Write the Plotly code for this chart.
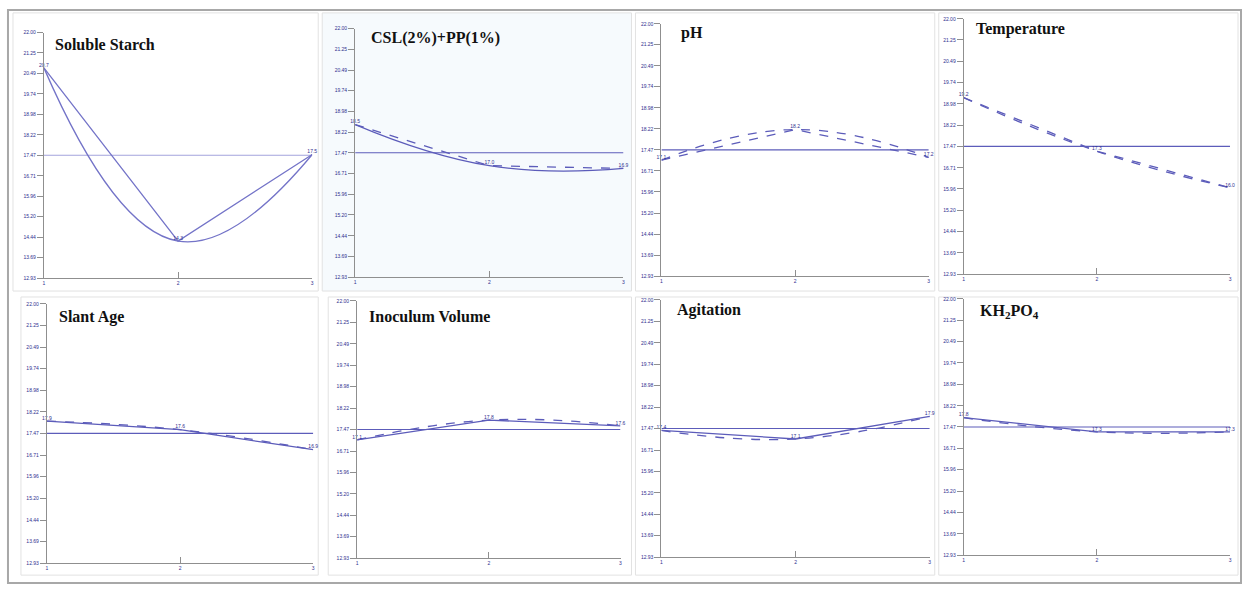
import plotly.graph_objects as go

# ---------------- data ----------------
factors = ["Soluble Starch", "CSL(2%)+PP(1%)", "pH", "Temperature",
           "Slant Age", "Inoculum Volume", "Agitation", "KH<sub>2</sub>PO<sub>4</sub>"]
levels = [1, 2, 3]
level_labels = ["1", "2", "3"]
soluble_starch = [20.7, 14.3, 17.5]
csl_pp = [18.5, 17.0, 16.9]
ph = [17.1, 18.2, 17.2]
temperature = [19.2, 17.3, 16.0]
slant_age = [17.9, 17.6, 16.9]
inoculum_volume = [17.1, 17.8, 17.6]
agitation = [17.4, 17.1, 17.9]
kh2po4 = [17.8, 17.3, 17.3]
series = [soluble_starch, csl_pp, ph, temperature, slant_age, inoculum_volume, agitation, kh2po4]
grand_mean = 17.47
y_ticks = [12.93, 13.69, 14.44, 15.20, 15.96, 16.71, 17.47, 18.22, 18.98, 19.74, 20.49, 21.25, 22.00]

# ---------------- layout geometry (pixels) ----------------
W, H = 1245, 589
# (x at level 1, x at level 3, y top of axis, y bottom of axis)
geom = [(43, 312, 30, 278), (355, 624, 26, 277), (662, 930, 21, 276), (965, 1232, 16, 274),
        (46, 313, 304, 566), (357, 621, 301, 561), (662, 931, 300, 560), (965, 1232, 299, 558)]
title_pos = [(52, 42), (369, 35), (680, 30), (975, 26), (56, 317), (367, 317), (676, 310), (979, 312)]
boxes = [(12, 10, 318, 291), (322, 10, 632, 291), (636, 10, 936, 291), (940, 10, 1240, 291),
         (20, 297, 318, 578), (328, 297, 632, 578), (636, 297, 936, 578), (940, 297, 1240, 578)]
line_dash = ["solid", "dash", "dash", "dash", "solid", "solid", "solid", "solid"]
curve_dash = ["solid", "solid", "dash", "dash", "dash", "dash", "dash", "dash"]

LINE = "#5c5cba"
NAVY = "#30308f"
AXIS = "#8f8f8f"

fig = go.Figure()
shapes = []
annotations = []

for i, (name, vals) in enumerate(zip(factors, series)):
    k = "" if i == 0 else str(i + 1)
    xa, ya = "x" + k, "y" + k
    x0, x3, yt, yb = geom[i]
    fig.update_layout(**{
        f"xaxis{k}": dict(domain=[x0 / W, x3 / W], range=[1, 3], anchor=ya,
                          tickvals=levels, ticktext=level_labels, ticks="inside", ticklen=6,
                          tickcolor=AXIS, showline=True, linecolor=AXIS, linewidth=1,
                          showgrid=False, zeroline=False,
                          tickfont=dict(size=5, color=NAVY, family="Arial")),
        f"yaxis{k}": dict(domain=[1 - yb / H, 1 - yt / H], range=[12.93, 22.0], anchor=xa,
                          tickvals=y_ticks, ticktext=[f"{v:.2f}" for v in y_ticks],
                          ticks="outside", ticklen=6, tickcolor=AXIS, showline=True,
                          linecolor=AXIS, linewidth=1, showgrid=False, zeroline=False,
                          tickfont=dict(size=5, color=NAVY, family="Arial")),
    })
    col = "#7474c8" if i == 0 else LINE
    mean_col = "#a3a3dc" if i == 0 else LINE
    fig.add_trace(go.Scatter(x=[levels[0], levels[-1]], y=[grand_mean, grand_mean],
                             mode="lines", line=dict(color=mean_col, width=1.1),
                             xaxis=xa, yaxis=ya, showlegend=False, hoverinfo="skip"))
    fig.add_trace(go.Scatter(x=levels, y=vals, mode="lines",
                             line=dict(color=col, width=1.3, shape="spline", smoothing=1.3,
                                       dash=curve_dash[i]),
                             xaxis=xa, yaxis=ya, showlegend=False, cliponaxis=False))
    fig.add_trace(go.Scatter(x=levels, y=vals, mode="lines+text",
                             text=[f"{v:.1f}" for v in vals], textposition="top center",
                             textfont=dict(size=5, color=NAVY, family="Arial"),
                             line=dict(color=col, width=1.3, dash=line_dash[i]),
                             xaxis=xa, yaxis=ya, showlegend=False, cliponaxis=False))
    bx0, by0, bx1, by1 = boxes[i]
    shapes.append(dict(type="rect", xref="paper", yref="paper", layer="below",
                       x0=bx0 / W, x1=bx1 / W, y0=1 - by1 / H, y1=1 - by0 / H,
                       line=dict(color="#e2e2e2", width=1),
                       fillcolor="#f6fafd" if i == 1 else "white"))
    tx, ty = title_pos[i]
    annotations.append(dict(xref="paper", yref="paper", x=tx / W, y=1 - ty / H,
                            xanchor="left", yanchor="middle", showarrow=False, text=f"<b>{name}</b>",
                            font=dict(family="Liberation Serif", size=16, color="#111111")))

shapes.append(dict(type="rect", xref="paper", yref="paper", layer="below",
                   x0=7 / W, x1=1243 / W, y0=1 - 586 / H, y1=1 - 7 / H,
                   line=dict(color="#a8a8a8", width=2)))

fig.update_layout(width=W, height=H, margin=dict(l=0, r=0, t=0, b=0),
                  paper_bgcolor="white", plot_bgcolor="rgba(0,0,0,0)",
                  shapes=shapes, annotations=annotations, showlegend=False)

fig.write_html("out.html", config={"displayModeBar": False},
               post_script="document.body.style.margin='0px';document.body.style.overflow='hidden';")
